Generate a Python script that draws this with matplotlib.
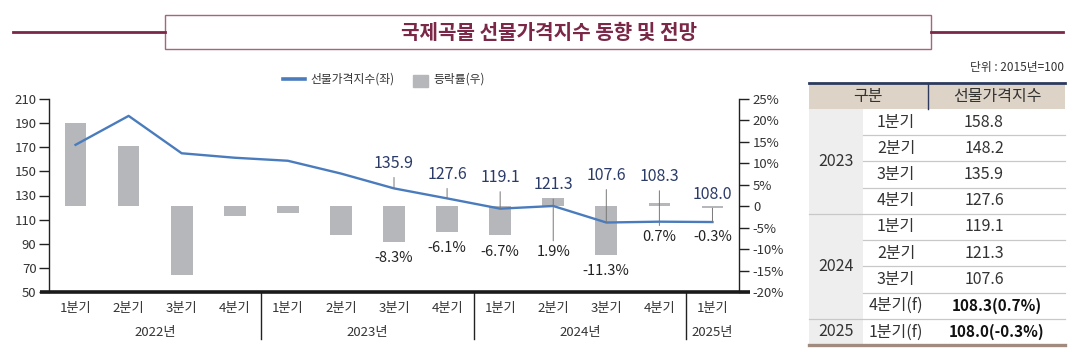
import matplotlib
matplotlib.use("Agg")
import matplotlib.pyplot as plt
from matplotlib.patches import Rectangle
from matplotlib.lines import Line2D
import matplotlib.transforms as mtransforms

plt.rcParams['font.family'] = ['Noto Sans CJK KR', 'DejaVu Sans']

# ---------------- data ----------------
quarters = ["1분기", "2분기", "3분기", "4분기",
            "1분기", "2분기", "3분기", "4분기",
            "1분기", "2분기", "3분기", "4분기",
            "1분기"]
years = ["2022년", "2023년", "2024년", "2025년"]
year_spans = [(0, 3), (4, 7), (8, 11), (12, 12)]
index_values = [172.0, 196.0, 165.0, 161.3, 158.8, 148.2, 135.9, 127.6,
                119.1, 121.3, 107.6, 108.3, 108.0]
change_rates = [19.5, 14.1, -16.0, -2.2, -1.5, -6.7, -8.3, -6.1,
                -6.7, 1.9, -11.3, 0.7, -0.3]
labeled_idx = [6, 7, 8, 9, 10, 11, 12]
forecast_flags = [False] * 11 + [True, True]

table_years = ["2023", "2024", "2025"]
table_quarters = ["1분기", "2분기", "3분기", "4분기",
                  "1분기", "2분기", "3분기", "4분기(f)",
                  "1분기(f)"]
table_idx = [4, 5, 6, 7, 8, 9, 10, 11, 12]

title = "국제곡물 선물가격지수 동향 및 전망"

# ---------------- layout ----------------
W, H = 1089, 356
fig = plt.figure(figsize=(W / 100, H / 100), dpi=100)
fig.patch.set_facecolor("white")

def fx(x):
    return x / W

def fy(y):
    return 1 - y / H

LINE_C = "#4a7cbd"
BAR_C = "#b6b7bb"
NAVY = "#2b3b68"
MAROON = "#7a2748"
TXT = "#333333"

ax_l, ax_r, ax_t, ax_b = 49, 739, 99, 292
ax = fig.add_axes([fx(ax_l), fy(ax_b), (ax_r - ax_l) / W, (ax_b - ax_t) / H])
ax2 = ax.twinx()
ax.set_zorder(ax2.get_zorder() + 1)
ax.patch.set_visible(False)

x = list(range(len(quarters)))
ax2.bar(x, change_rates, width=0.41, color=BAR_C, zorder=1)
ax.plot(x, index_values, color=LINE_C, lw=1.7, zorder=3, solid_joinstyle="round")

ax.set_xlim(-0.5, len(quarters) - 0.5)
ax.set_ylim(50, 210)
ax2.set_ylim(-20, 25)
ax.set_yticks(range(50, 211, 20))
ax2.set_yticks(range(-20, 26, 5))
ax2.set_yticklabels([("0" if v == 0 else f"{v}%") for v in range(-20, 26, 5)])

for a in (ax, ax2):
    for s in ("top", "bottom"):
        a.spines[s].set_visible(False)
ax.spines["right"].set_visible(False)
ax2.spines["left"].set_visible(False)
ax.spines["left"].set_color("#222222")
ax2.spines["right"].set_color("#222222")
ax.spines["left"].set_linewidth(1.0)
ax2.spines["right"].set_linewidth(1.0)

ax.tick_params(axis="y", direction="out", length=7, width=1.0, color="#222222",
               labelsize=9.5, labelcolor=TXT, pad=2)
ax2.tick_params(axis="y", direction="out", length=7, width=1.0, color="#222222",
                labelsize=9.5, labelcolor=TXT, pad=3)
ax.set_xticks(x)
ax.set_xticklabels(quarters)
ax.tick_params(axis="x", length=0, labelsize=9.5, labelcolor=TXT, pad=7)
ax2.tick_params(axis="x", length=0, labelbottom=False)

# thick base line
ax.plot([-0.013, 1.016], [0, 0], transform=ax.transAxes, color="#1a1a1a",
        lw=2.6, clip_on=False, zorder=5, solid_capstyle="butt")

# year separators and labels
blend = mtransforms.blended_transform_factory(ax.transData, ax.transAxes)
for (s, e) in year_spans[:-1]:
    ax.plot([e + 0.5, e + 0.5], [0, -0.245], transform=blend, color="#222222",
            lw=1.0, clip_on=False)
for yl, (s, e) in zip(years, year_spans):
    ax.text((s + e) / 2, -0.212, yl, transform=blend, ha="center", va="center",
            fontsize=9.5, color=TXT)

# annotations (value labels above, rate labels below)
top_off = {6: 25, 7: 24, 8: 31, 9: 21, 10: 47, 11: 45, 12: 28}   # px above line point
for i in labeled_idx:
    ax.annotate(f"{index_values[i]:.1f}", xy=(x[i], index_values[i]),
                xytext=(0, top_off[i] / 1.389), textcoords="offset points",
                ha="center", va="center", fontsize=11.5, color=NAVY,
                arrowprops=dict(arrowstyle="-", color="#777777", lw=0.7,
                                shrinkA=2, shrinkB=0), zorder=6)

bar_off = {6: 16, 7: 16, 8: 17, 10: 16}     # px below bar end
for i, off in bar_off.items():
    ax2.annotate(f"{change_rates[i]:.1f}%", xy=(x[i], change_rates[i]),
                 xytext=(0, -off / 1.389), textcoords="offset points",
                 ha="center", va="center", fontsize=10.5, color="#222222")
pt_off = {9: 46, 11: 15, 12: 15}            # px below line point
for i, off in pt_off.items():
    arrow = dict(arrowstyle="-", color="#777777", lw=0.7, shrinkA=1, shrinkB=0) if i != 12 else None
    ax.annotate(f"{change_rates[i]:.1f}%", xy=(x[i], index_values[i]),
                xytext=(0, -off / 1.389), textcoords="offset points",
                ha="center", va="center", fontsize=10.5, color="#222222",
                arrowprops=arrow, zorder=6)

# legend
fig.add_artist(Line2D([fx(283), fx(305)], [fy(79), fy(79)], color=LINE_C, lw=2.6,
                      transform=fig.transFigure))
fig.text(fx(310), fy(79), "선물가격지수(좌)", ha="left", va="center", fontsize=8.5, color=TXT)
fig.add_artist(Rectangle((fx(413), fy(87)), fx(15), 12 / H, color=BAR_C,
                         transform=fig.transFigure))
fig.text(fx(433), fy(79), "등락률(우)", ha="left", va="center", fontsize=8.5, color=TXT)

# title
fig.add_artist(Line2D([fx(13), fx(165)], [fy(32), fy(32)], color=MAROON, lw=2.0,
                      transform=fig.transFigure))
fig.add_artist(Line2D([fx(931), fx(1063)], [fy(32), fy(32)], color=MAROON, lw=2.0,
                      transform=fig.transFigure))
fig.add_artist(Rectangle((fx(165), fy(49)), fx(931 - 165), 34 / H, facecolor="white",
                         edgecolor="#a8647f", lw=1.0, transform=fig.transFigure))
fig.text(fx(549), fy(32), title, ha="center", va="center", fontsize=14.5,
         fontweight="bold", color=MAROON)

# ---------------- table ----------------
fig.text(fx(1064), fy(67), "단위 : 2015년=100", ha="right", va="center",
         fontsize=8.5, color=TXT)
tl, tr, tdiv1, tdiv2 = 809, 1065, 863, 928
t_top, h_bot = 83, 109
row_h = (345 - h_bot) / 9
fig.add_artist(Rectangle((fx(tl), fy(h_bot)), fx(tr - tl), (h_bot - t_top) / H,
                         facecolor="#ddd4c7", edgecolor="none", transform=fig.transFigure))
fig.add_artist(Rectangle((fx(tl), fy(345)), fx(tdiv1 - tl), (345 - h_bot) / H,
                         facecolor="#eeeeee", edgecolor="none", transform=fig.transFigure))
fig.add_artist(Line2D([fx(tl), fx(tr)], [fy(t_top), fy(t_top)], color="#2d3a5e", lw=2.0,
                      transform=fig.transFigure))
fig.add_artist(Line2D([fx(tdiv2), fx(tdiv2)], [fy(t_top), fy(h_bot)], color="#2d3a5e", lw=1.0,
                      transform=fig.transFigure))
fig.text(fx(868), fy(96), "구분", ha="center", va="center", fontsize=11.5, color=TXT)
fig.text(fx(997), fy(96), "선물가격지수", ha="center", va="center", fontsize=11.5, color=TXT)

group_rows = [(0, 3), (4, 7), (8, 8)]
for r in range(1, 9):
    y = h_bot + r * row_h
    full = (r == 4 or r == 8)
    fig.add_artist(Line2D([fx(tl if full else tdiv1), fx(tr)], [fy(y), fy(y)],
                          color="#c8c8c8", lw=0.9, transform=fig.transFigure))
fig.add_artist(Line2D([fx(tl), fx(tr)], [fy(345), fy(345)], color="#a08b7e", lw=2.4,
                      transform=fig.transFigure))
for yl, (s, e) in zip(table_years, group_rows):
    yc = h_bot + (s + e + 1) / 2 * row_h
    fig.text(fx(836), fy(yc), yl, ha="center", va="center", fontsize=11.5, color=TXT)
for r, (ql, i) in enumerate(zip(table_quarters, table_idx)):
    yc = h_bot + (r + 0.5) * row_h
    fig.text(fx(896), fy(yc), ql, ha="center", va="center", fontsize=11.5, color=TXT)
    if forecast_flags[i]:
        fig.text(fx(997), fy(yc), f"{index_values[i]:.1f}({change_rates[i]:.1f}%)",
                 ha="center", va="center", fontsize=11, color="#111111",
                 fontweight="bold")
    else:
        fig.text(fx(984), fy(yc), f"{index_values[i]:.1f}", ha="center", va="center",
                 fontsize=11.5, color=TXT)

fig.savefig("out.png", dpi=100)
